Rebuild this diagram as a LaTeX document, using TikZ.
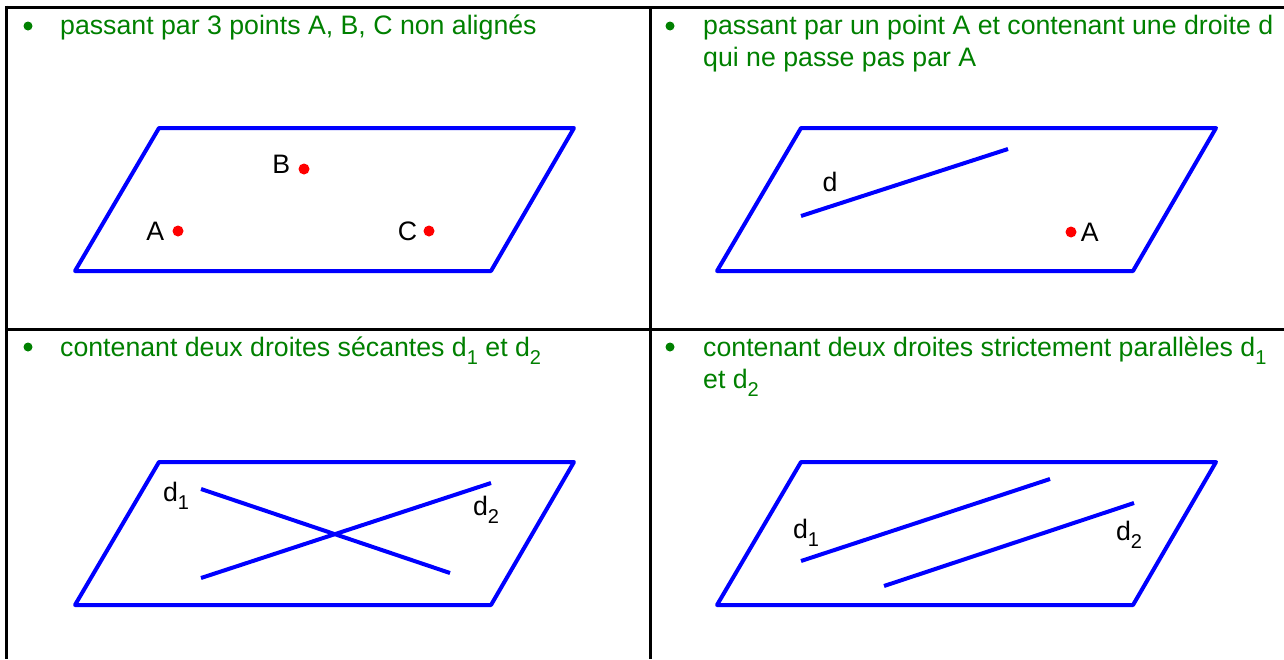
\documentclass[tikz,border=0pt]{standalone}
\usepackage{fontspec}
\setmainfont{Liberation Sans}
\usetikzlibrary{positioning}
\definecolor{vert}{RGB}{0,128,0}
\newcommand{\bas}[1]{\raisebox{-0.32em}{\fontsize{20}{22}\selectfont #1}}

\begin{document}
\begin{tikzpicture}[x=1pt,y=-1pt,
  rule/.style={black,line width=3pt},
  plane/.style={blue,line width=4pt,line join=round},
  droite/.style={blue,line width=4pt},
  pt/.style={circle,fill=red,inner sep=0pt,minimum size=11pt},
  lbl/.style={inner sep=0pt,font=\fontsize{26.7}{32}\selectfont},
  puce/.style={circle,fill=vert,inner sep=0pt,minimum size=9pt},
  titre/.style={anchor=base west,inner sep=0pt,text=vert,font=\fontsize{26.7}{32}\selectfont}]
\useasboundingbox (0,0) rectangle (1284,659);
% table
\draw[rule] (5,7) -- (1284,7);
\draw[rule] (6.5,5.5) -- (6.5,659);
\draw[rule] (650,7) -- (650,659);
\draw[rule] (6.5,329) -- (1284,329);
% titles
\node[puce] (p1) at (28,26) {};
\node[titre] (t1) at (60,34) {passant par 3 points A, B, C non alignés};
\node[puce] (p2) at (670,26) {};
\node[titre] (t2) at (703,34) {passant par un point A et contenant une droite d};
\node[titre] (t2b) at (703,66) {qui ne passe pas par A};
\node[puce] (p3) at (28,347) {};
\node[titre] (t3) at (60,356) {contenant deux droites sécantes d\bas{1} et d\bas{2}};
\node[puce] (p4) at (670,347) {};
\node[titre] (t4) at (703,356) {contenant deux droites strictement parallèles d\bas{1}};
\node[titre] (t4b) at (703,388) {et d\bas{2}};
\begin{scope}[shift={(0,0)}]
\draw[plane] (159,128) -- (574,128) -- (491,271) -- (75,271) -- cycle;
\node[pt] (A) at (178,231) {};
\node[pt] (B) at (304,169) {};
\node[pt] (C) at (429,231) {};
\node[lbl,left=8pt of A] (labA) {A};
\node[lbl,left=8pt of B,yshift=5pt] (labB) {B};
\node[lbl,left=6pt of C] (labC) {C};
\end{scope}
\begin{scope}[shift={(642,0)}]
\draw[plane] (159,128) -- (574,128) -- (491,271) -- (75,271) -- cycle;
\coordinate (d0) at (159,216);
\coordinate (d1) at (366,149);
\draw[droite] (d0) -- (d1);
\node[lbl] (labd) at (188,182) {d};
\node[pt] (A2) at (429,232) {};
\node[lbl,right=4pt of A2] (labA2) {A};
\end{scope}
\begin{scope}[shift={(0,334)}]
\draw[plane] (159,128) -- (574,128) -- (491,271) -- (75,271) -- cycle;
\coordinate (s1a) at (201,155);
\coordinate (s1b) at (450,239);
\coordinate (s2a) at (201,244);
\coordinate (s2b) at (491,149);
\draw[droite] (s1a) -- (s1b);
\draw[droite] (s2a) -- (s2b);
\node[lbl] (labs1) at (176,162) {d\bas{1}};
\node[lbl] (labs2) at (486,176) {d\bas{2}};
\end{scope}
\begin{scope}[shift={(642,334)}]
\draw[plane] (159,128) -- (574,128) -- (491,271) -- (75,271) -- cycle;
\coordinate (p1a) at (159,227);
\coordinate (p1b) at (408,145);
\coordinate (p2a) at (242,252);
\coordinate (p2b) at (492,169);
\draw[droite] (p1a) -- (p1b);
\draw[droite] (p2a) -- (p2b);
\node[lbl] (labp1) at (164,199) {d\bas{1}};
\node[lbl] (labp2) at (487,201) {d\bas{2}};
\end{scope}
\end{tikzpicture}
\end{document}
